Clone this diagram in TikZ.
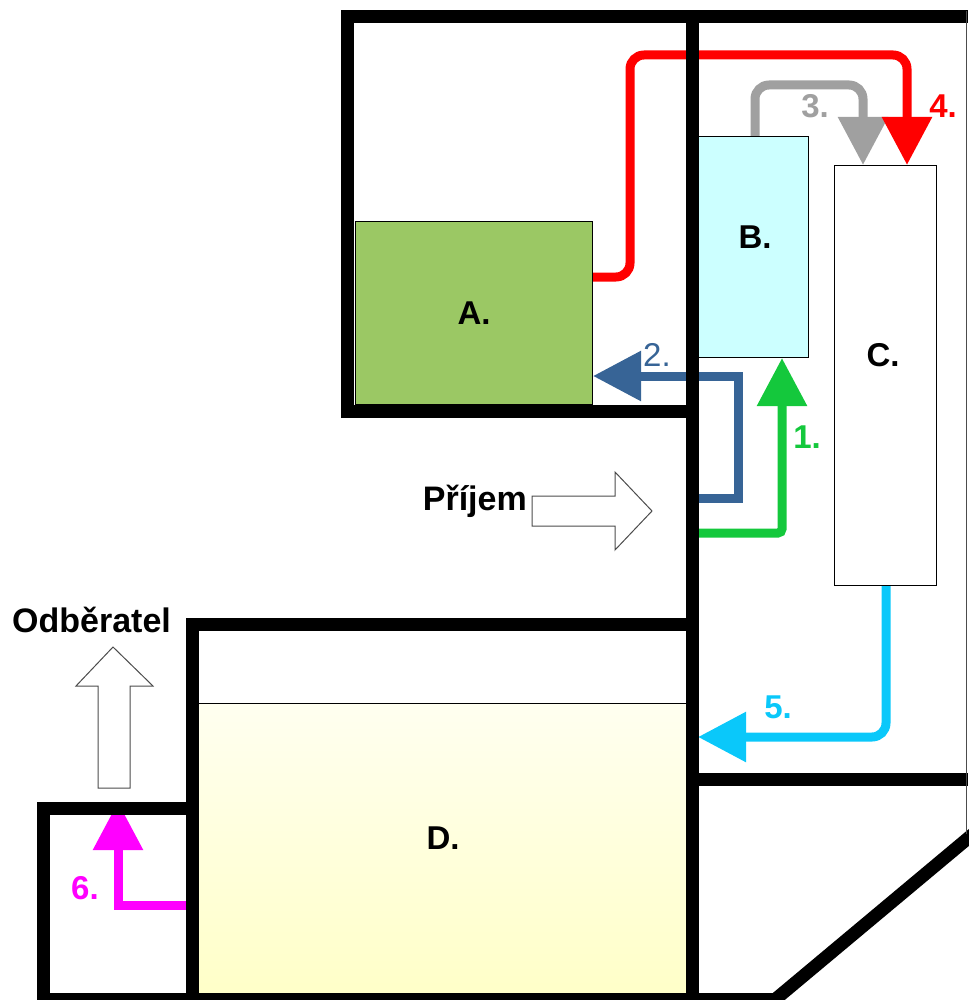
\documentclass[tikz,border=0pt]{standalone}
\usepackage{fontspec}
\setmainfont{Liberation Sans}
\usetikzlibrary{arrows.meta}

\definecolor{boxA}{RGB}{155,200,100}
\definecolor{boxB}{RGB}{204,255,255}
\definecolor{yellowtop}{RGB}{255,255,240}
\definecolor{yellowbot}{RGB}{255,255,200}
\definecolor{flowone}{RGB}{20,200,60}
\definecolor{flowtwo}{RGB}{55,100,150}
\definecolor{flowthree}{RGB}{160,160,160}
\definecolor{flowfour}{RGB}{255,0,0}
\definecolor{flowfive}{RGB}{10,200,250}
\definecolor{flowsix}{RGB}{255,0,255}

\begin{document}
\begin{tikzpicture}[x=1pt, y=-1pt,
		wall/.style={line width=13pt, line join=miter},
		box/.style={draw, line width=1pt, inner sep=0pt, anchor=north west},
		flow/.style={line width=9pt, -{Triangle[length=48pt,width=48pt]}},
		hollow/.style={draw=black!70, fill=white, line width=1pt},
		lbl/.style={font=\fontsize{33}{36}\selectfont\bfseries, inner sep=0pt},
		bigtxt/.style={font=\fontsize{34}{38}\selectfont\bfseries, inner sep=0pt}]
		\useasboundingbox (0,0) rectangle (968,1000);

		% Boxes
		\node[box, fill=boxA, minimum width=237pt, minimum height=183pt] (A) at (355,221) {};
		\node[box, fill=boxB, minimum width=110pt, minimum height=221pt] (B) at (698,136) {};
		\node[box, fill=white, minimum width=102pt, minimum height=420pt] (C) at (834,165) {};
		\node[box, draw=none, top color=yellowtop, bottom color=yellowbot, minimum width=488pt, minimum height=290pt] (D) at (198,703) {};
		\draw[line width=1pt] (D.north west) -- (D.north east);

		% Flows
		\coordinate (w1) at (698,533);
		\coordinate (w2) at (698,498);
		\coordinate (w5) at (698,737);
		\coordinate (w6) at (186,905);
		\coordinate (w6b) at (118,802);
		\draw[flow, flowone, rounded corners=4pt] (w1) -- (782,533) -- (B.south -| 782,0);
		\draw[flow, flowtwo] (w2) -- (738,498) -- (738,376) -- (A.east |- 0,376);
		\draw[flow, flowthree, rounded corners=14pt] (B.north -| 755,0) -- (755,85) -- (863,85) -- (C.north -| 863,0);
		\draw[flow, flowfour, rounded corners=14pt] (A.east |- 0,277) -- (630,277) -- (630,55) -- (907,55) -- (C.north -| 907,0);
		\draw[flow, flowfive, rounded corners=14pt] (C.south -| 886,0) -- (886,737) -- (w5);
		\draw[flow, flowsix] (w6) -- (118,905) -- (w6b);

		% Walls
		\draw[wall] (341,411) -- (692,411);
		\draw[wall] (347,418) -- (347,17) -- (968,17);
		\draw[wall] (692,11) -- (692,1000);
		\draw[wall] (192,1000) -- (192,624) -- (692,624);
		\draw[wall] (43,1000) -- (43,808) -- (192,808);
		\draw[wall] (37,999) -- (776,999);
		\draw[wall] (692,779) -- (968,779);
		\draw[wall] (771,1003) -- (985,824);
		\draw[black!70, line width=1pt] (966,11) -- (966,834);

		% In and out
		\draw[hollow] (532,496) -- (615,496) -- (615,472) -- (652,511) -- (615,550) -- (615,526) -- (532,526) -- cycle;
		\node[bigtxt, anchor=base east] (prijem) at (527,510) {Příjem};
		\draw[hollow] (113,647) -- (153,686) -- (130,686) -- (130,788) -- (98,788) -- (98,686) -- (76,686) -- cycle;
		\node[bigtxt, anchor=base west] (odb) at (12,632) {Odběratel};

		% Labels
		\node[lbl] (la) at (A.center) {A.};
		\node[lbl] (lb) at (755,237) {B.};
		\node[lbl] (lc) at (883,355) {C.};
		\node[lbl] (ld) at (443,838) {D.};
		\node[lbl, text=flowone] (n1) at (807,437) {1.};
		\node[lbl, text=flowtwo, font=\fontsize{33}{36}\selectfont] (n2) at (657,355) {2.};
		\node[lbl, text=flowthree] (n3) at (815,106) {3.};
		\node[lbl, text=flowfour] (n4) at (943,106) {4.};
		\node[lbl, text=flowfive] (n5) at (778,707) {5.};
		\node[lbl, text=flowsix] (n6) at (85,888) {6.};
	\end{tikzpicture}
\end{document}
